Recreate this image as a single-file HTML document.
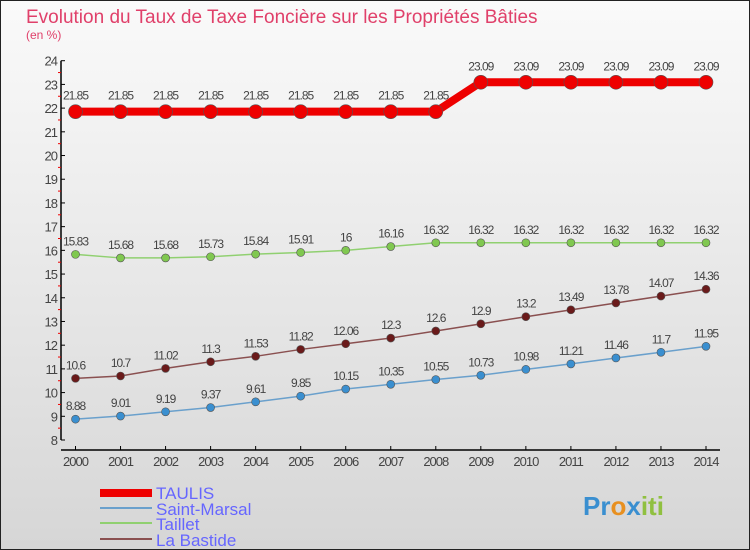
<!DOCTYPE html>
<html><head><meta charset="utf-8"><style>
body{margin:0}
#c{width:750px;height:550px;position:relative;overflow:hidden;font-family:"Liberation Sans",sans-serif}
</style></head><body>
<div id="c">
<svg width="750" height="550" xmlns="http://www.w3.org/2000/svg">
<defs><linearGradient id="bg" x1="0" y1="0" x2="0" y2="1"><stop offset="0" stop-color="#fafafa"/><stop offset="1" stop-color="#d6d6d6"/></linearGradient></defs>
<rect x="0.5" y="0.5" width="749" height="549" fill="url(#bg)" stroke="#222"/>
<text x="26" y="23" font-size="19" fill="#e0406a">Evolution du Taux de Taxe Foncière sur les Propriétés Bâties</text>
<text x="26" y="39" font-size="12" fill="#e0406a">(en %)</text>
<g id="axes"></g>
<g id="series"></g>
<g font-size="17" fill="#6666ff">
<rect x="100" y="489" width="52" height="8" fill="#e00"/>
<text x="156" y="499">TAULIS</text>
<rect x="100" y="507" width="52" height="2" fill="#6aa0cc"/>
<text x="156" y="515">Saint-Marsal</text>
<rect x="100" y="522" width="52" height="2" fill="#90d070"/>
<text x="156" y="530">Taillet</text>
<rect x="100" y="538" width="52" height="2" fill="#8a5050"/>
<text x="156" y="546">La Bastide</text>
</g>
<text x="583" y="515" font-size="26" font-weight="bold"><tspan fill="#3a8fd0">Pr</tspan><tspan fill="#e89020">o</tspan><tspan fill="#3a8fd0">x</tspan><tspan fill="#90c040">iti</tspan></text>
</svg>
</div>
<script>
const years=[2000,2001,2002,2003,2004,2005,2006,2007,2008,2009,2010,2011,2012,2013,2014];
const taulis=[21.85,21.85,21.85,21.85,21.85,21.85,21.85,21.85,21.85,23.09,23.09,23.09,23.09,23.09,23.09];
const saintMarsal=[8.88,9.01,9.19,9.37,9.61,9.85,10.15,10.35,10.55,10.73,10.98,11.21,11.46,11.7,11.95];
const taillet=[15.83,15.68,15.68,15.73,15.84,15.91,16,16.16,16.32,16.32,16.32,16.32,16.32,16.32,16.32];
const laBastide=[10.6,10.7,11.02,11.3,11.53,11.82,12.06,12.3,12.6,12.9,13.2,13.49,13.78,14.07,14.36];
const yTicks=[8,9,10,11,12,13,14,15,16,17,18,19,20,21,22,23,24];
const NS="http://www.w3.org/2000/svg";
const x=i=>75.5+i*(706-75.5)/(years.length-1);
const y=v=>440-(v-8)*(440-60.7)/16;
function mk(t,a,p){const e=document.createElementNS(NS,t);for(const k in a)e.setAttribute(k,a[k]);p.appendChild(e);return e;}
const ax=document.getElementById('axes');
const yl=mk('line',{x1:61,y1:y(24),x2:61,y2:440,stroke:'#000','stroke-width':1.5},ax);


yTicks.forEach(v=>{
 mk('line',{x1:61,y1:y(v),x2:65,y2:y(v),stroke:'#000'},ax);
 if(v<24)mk('line',{x1:58,y1:y(v+0.5),x2:61,y2:y(v+0.5),stroke:'#e00'},ax);
 const t=mk('text',{x:57,y:y(v)+5,'font-size':13,fill:'#444','text-anchor':'end','letter-spacing':'-1'},ax);
 t.textContent=v;
 
 
});
const xl=mk('line',{x1:61,y1:450,x2:720,y2:450,stroke:'#000','stroke-width':1.5},ax);


years.forEach((yr,i)=>{
 mk('line',{x1:x(i),y1:446,x2:x(i),y2:450,stroke:'#000'},ax);
 const t=mk('text',{x:x(i),y:466,'font-size':13,fill:'#444','text-anchor':'middle','letter-spacing':'-1'},ax);
 t.textContent=yr;
 
 
});
const sg=document.getElementById('series');
function series(vals,name,color,w,r,dot){
 const g=mk('g',{},sg);
 
 
 const pl=mk('polyline',{points:vals.map((v,i)=>x(i)+','+y(v)).join(' '),fill:'none',stroke:color,'stroke-width':w},g);
 
 
 vals.forEach((v,i)=>{
  const c=mk('circle',{cx:x(i),cy:y(v),r:r,fill:dot,stroke:'#555','stroke-width':0.6},g);
  
  
  const t=mk('text',{x:x(i),y:y(v)-(r+5),'font-size':12,fill:'#444','text-anchor':'middle','letter-spacing':'-1'},g);
  t.textContent=v;
  
  
 });
}
series(saintMarsal,'saint-marsal','#6aa0cc',1.5,4,'#3a8fd0');
series(laBastide,'la-bastide','#8a5050',1.5,4,'#6a1a1a');
series(taillet,'taillet','#90d070',1.5,4,'#80c850');
series(taulis,'taulis','#e00',8,7,'#e00');
</script>
</body></html>
